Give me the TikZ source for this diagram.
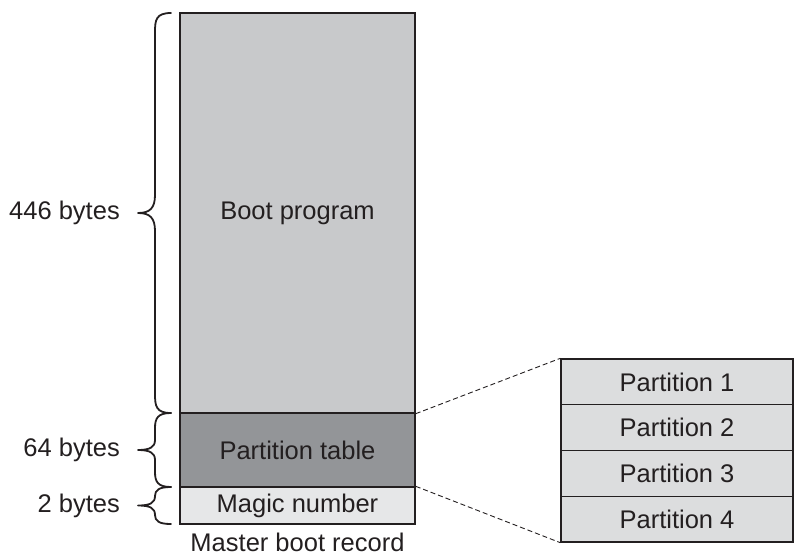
\documentclass[tikz,border=0pt]{standalone}
\usepackage{fontspec}
\setmainfont{Liberation Sans}
\definecolor{bootgray}{RGB}{200,201,203}
\definecolor{ptgray}{RGB}{147,149,152}
\definecolor{magicgray}{RGB}{230,231,232}
\definecolor{partgray}{RGB}{220,221,222}
\definecolor{ink}{RGB}{35,31,32}
\begin{document}
\begin{tikzpicture}[x=1pt,y=-1pt,
  box/.style={draw=ink,line width=1.4pt,rectangle,inner sep=0pt,font=\fontsize{25.5}{30}\selectfont,text=ink},
  lbl/.style={inner sep=0pt,font=\fontsize{25.5}{30}\selectfont,text=ink},
  bracepath/.style={draw=ink,line width=1.8pt,line cap=round,line join=round},
  dashline/.style={draw=ink,line width=0.9pt,dash pattern=on 5pt off 3pt}]
\useasboundingbox (0,0) rectangle (794,556);
% master boot record
\node[box,fill=bootgray,minimum width=235pt,minimum height=400pt] (boot) at (297.5,213) {Boot program};
\node[box,fill=ptgray,minimum width=235pt,minimum height=74pt] (ptab) at (297.5,450) {Partition table};
\node[box,fill=magicgray,minimum width=235pt,minimum height=37pt] (magic) at (297.5,505.5) {Magic number};
\node[lbl,anchor=base] (mbr) at (297.5,551.5) {Master boot record};
% partitions
\node[box,fill=partgray,minimum width=232pt,minimum height=45.75pt] (p1) at (677,381.9) {Partition 1};
\node[box,fill=partgray,minimum width=232pt,minimum height=45.75pt] (p2) at (677,427.6) {Partition 2};
\node[box,fill=partgray,minimum width=232pt,minimum height=45.75pt] (p3) at (677,473.4) {Partition 3};
\node[box,fill=partgray,minimum width=232pt,minimum height=45.75pt] (p4) at (677,519.1) {Partition 4};
% dashed connectors
\draw[dashline] (boot.south east) -- (p1.north west);
\draw[dashline] (magic.north east) -- (p4.south west);
% braces
\draw[bracepath] (171,13) .. controls (156,13) and (155,20) .. (155,32)
  -- (155,195) .. controls (155,208) and (150,213) .. (138,213)
  .. controls (150,213) and (155,218) .. (155,231)
  -- (155,394) .. controls (155,406) and (156,413) .. (171,413);
\draw[bracepath] (171,413) .. controls (158,413) and (155,418) .. (155,428)
  -- (155,440) .. controls (155,447) and (150,450) .. (138,450)
  .. controls (150,450) and (155,453) .. (155,460)
  -- (155,472) .. controls (155,482) and (158,487) .. (171,487);
\draw[bracepath] (171,487) .. controls (159,487) and (155,490) .. (155,496)
  .. controls (155,503) and (150,505.5) .. (138,505.5)
  .. controls (150,505.5) and (155,508) .. (155,515)
  .. controls (155,521) and (159,524) .. (171,524);
% brace labels
\node[lbl,anchor=east] (l446) at (120,213) {446 bytes};
\node[lbl,anchor=east] (l64) at (120,450) {64 bytes};
\node[lbl,anchor=east] (l2) at (120,505.5) {2 bytes};
\end{tikzpicture}
\end{document}
